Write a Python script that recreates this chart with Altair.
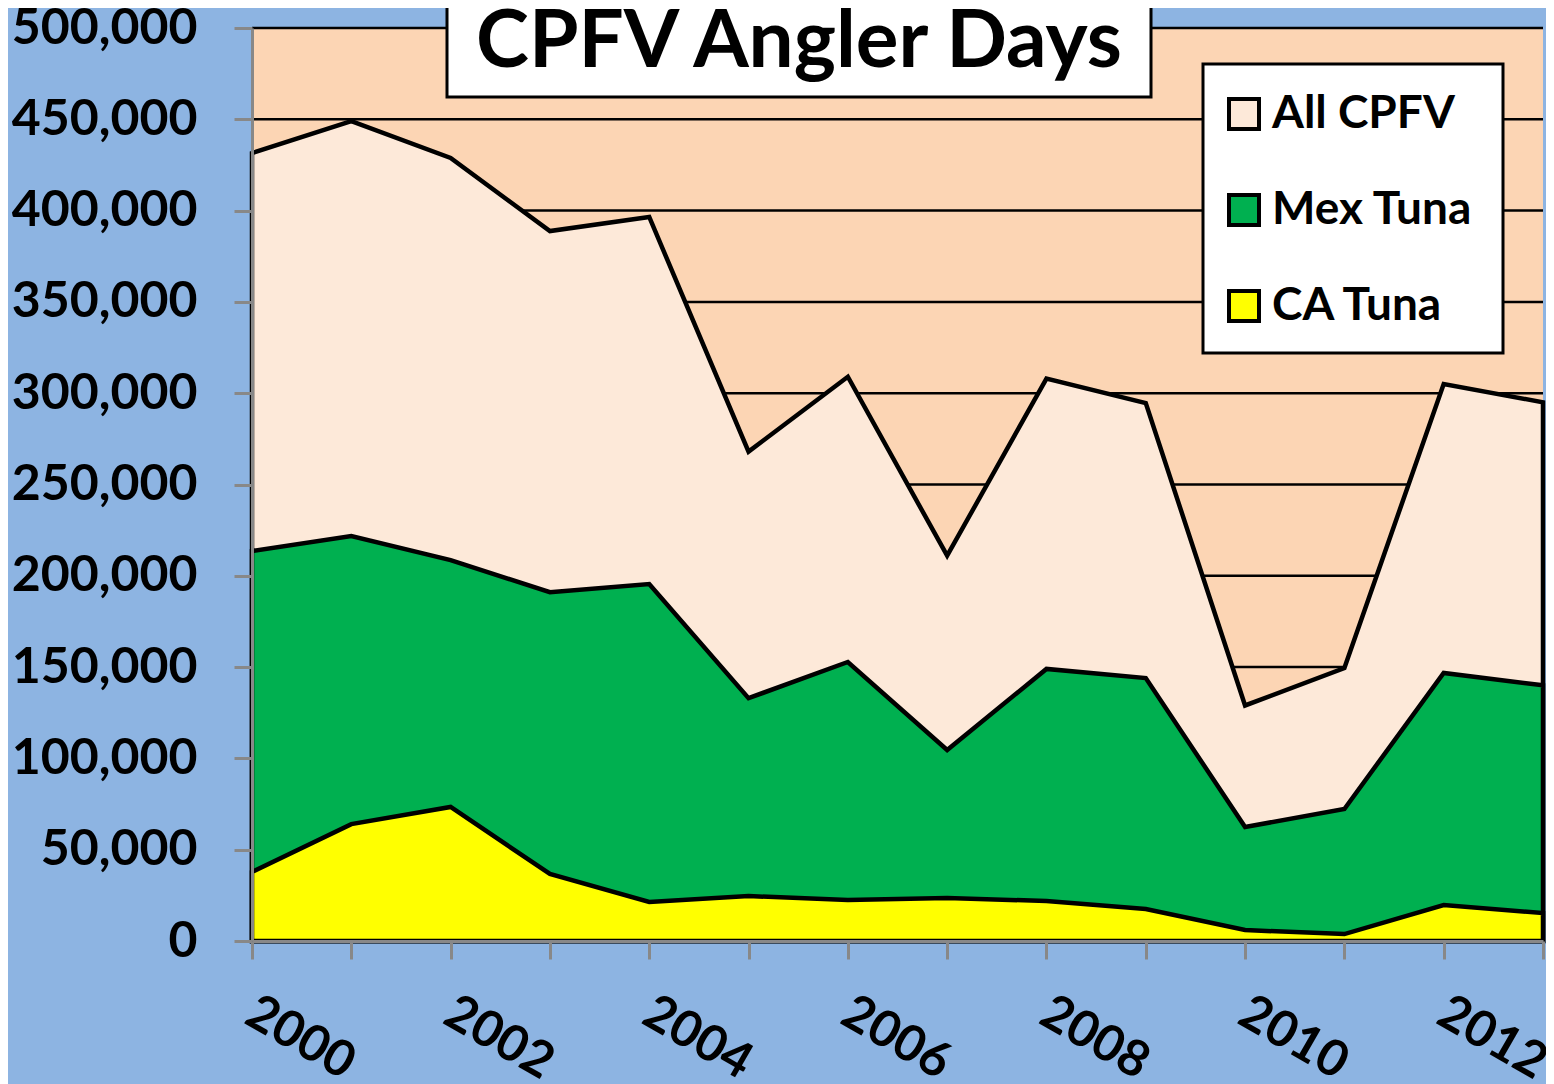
import altair as alt
import pandas as pd

years = list(range(2000, 2014))
all_cpfv = [431500, 449000, 428800, 388800, 396500, 268000, 309000, 211000, 308000, 294600, 129000, 149500, 305000, 295000]
mex_tuna = [213600, 221800, 208600, 191000, 195500, 133000, 152800, 104600, 149000, 144000, 62400, 72300, 146800, 140000]
ca_tuna = [37800, 64000, 73400, 36700, 21400, 24600, 22500, 23500, 21900, 17500, 6000, 3800, 19700, 15300]
series = ["All CPFV", "Mex Tuna", "CA Tuna"]
colors = ["#FDE9D9", "#00B050", "#FFFF00"]
y_ticks = list(range(0, 500001, 50000))
grid_values = y_ticks[1:]
title_text = "CPFV Angler Days"

W, H = 1291, 913
FONT = "Lato"

rows = []
for name, vals in zip(series, [all_cpfv, mex_tuna, ca_tuna]):
    for yr, v in zip(years, vals):
        rows.append({"year": yr, "value": v, "series": name})
df = pd.DataFrame(rows)

x_enc = alt.X("year:Q",
              scale=alt.Scale(domain=[2000, 2013], nice=False, zero=False),
              axis=alt.Axis(values=years, title=None,
                            labelExpr="datum.value % 2 == 0 ? '' + datum.value : ''",
                            labelAngle=30, labelAlign="left", labelBaseline="top",
                            labelPadding=28, labelOffset=10, grid=False, zindex=1,
                            labelLimit=400))
y_scale = alt.Scale(domain=[0, 500000], nice=False, zero=True)
y_enc = alt.Y("value:Q", scale=y_scale,
              axis=alt.Axis(values=y_ticks, format=",d", title=None, grid=False,
                            labelPadding=37, zindex=1, labelLimit=400))
legend = alt.Legend(title=None, orient="none", legendX=969, legendY=63,
                    symbolType="square", symbolSize=900, symbolStrokeColor="black",
                    symbolStrokeWidth=4, symbolOpacity=1,
                    labelFont=FONT, labelFontSize=46, labelFontWeight="bold",
                    labelColor="black", labelOffset=5, rowPadding=50, padding=0,
                    labelLimit=400)
color_enc = alt.Color("series:N", scale=alt.Scale(domain=series, range=colors), legend=legend)

grid = alt.Chart(pd.DataFrame({"value": grid_values})).mark_rule(
    color="black", strokeWidth=2.5
).encode(y=y_enc, x=alt.value(0), x2=alt.value(W))

areas = []
for name in series:
    areas.append(
        alt.Chart(df).transform_filter(alt.datum.series == name).mark_area(
            stroke="black", strokeWidth=4.5, opacity=1, strokeJoin="miter"
        ).encode(x=x_enc, y=y_enc, color=color_enc)
    )

title_box = alt.Chart(pd.DataFrame({"t": [title_text]})).mark_rect(
    fill="white", stroke="black", strokeWidth=3
).encode(x=alt.value(195), x2=alt.value(899), y=alt.value(-40), y2=alt.value(69))

title_mark = alt.Chart(pd.DataFrame({"t": [title_text]})).mark_text(
    font=FONT, fontSize=80, fontWeight="bold", color="black", align="center",
    baseline="alphabetic"
).encode(text="t:N", x=alt.value(547), y=alt.value(39))

legend_box = alt.Chart(pd.DataFrame({"t": [title_text]})).mark_rect(
    fill="white", stroke="black", strokeWidth=3
).encode(x=alt.value(951), x2=alt.value(1251), y=alt.value(36), y2=alt.value(325))

chart = alt.layer(grid, *areas, title_box, title_mark, legend_box).properties(
    width=W, height=H,
    autosize=alt.AutoSizeParams(type="none"),
    padding={"left": 244, "top": 20, "right": 3, "bottom": 143},
    background="#8DB4E2",
).configure_view(fill="#FCD5B4", stroke=None).configure_axis(
    labelFont=FONT, labelFontSize=50, labelFontWeight="bold", labelColor="black",
    domainColor="#888888", domainWidth=3, tickColor="#888888", tickWidth=3,
    tickSize=18, labelOverlap=False
)

chart.save("out.html", embed_options={"renderer": "svg", "actions": False})
